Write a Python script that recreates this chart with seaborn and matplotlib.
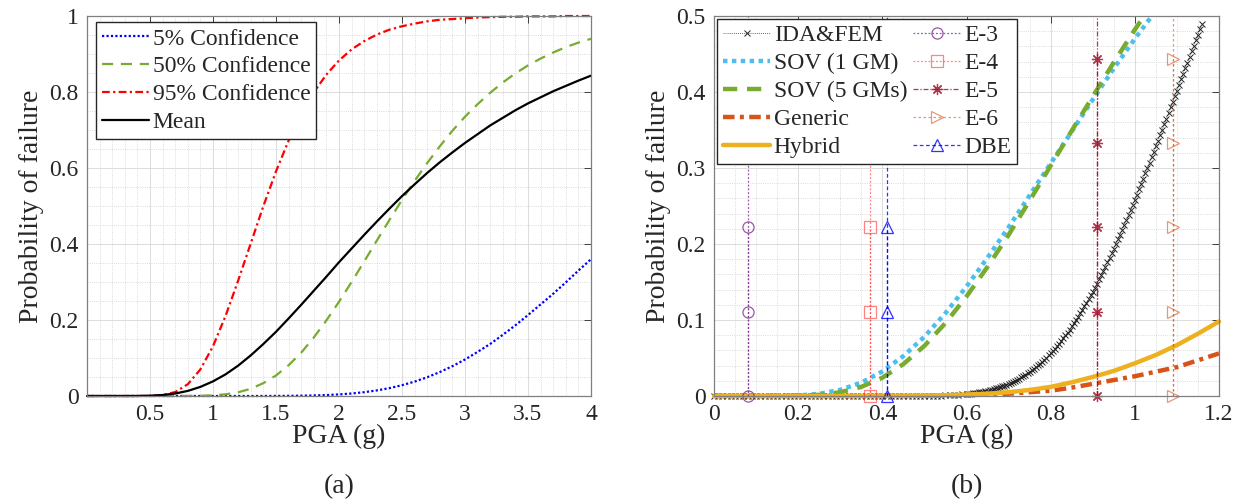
import matplotlib
matplotlib.use('Agg')
import matplotlib.pyplot as plt
from matplotlib.ticker import MultipleLocator, FuncFormatter
import seaborn as sns

# ---- (a) fragility curves with confidence bounds
pga_a = [0.0, 0.1, 0.2, 0.3, 0.4, 0.5, 0.6, 0.7, 0.8, 0.9,
         1.0, 1.1, 1.2, 1.3, 1.4, 1.5, 1.6, 1.7, 1.8, 1.9,
         2.0, 2.1, 2.2, 2.3, 2.4, 2.5, 2.6, 2.7, 2.8, 2.9,
         3.0, 3.1, 3.2, 3.3, 3.4, 3.5, 3.6, 3.7, 3.8, 3.9, 4.0]
pf_5 = [0, 0, 0, 0, 0, 0, 0, 0, 0, 0,
        0, 0, 0, 0, 0, 0.0002, 0.0004, 0.0008, 0.0014, 0.0025,
        0.0042, 0.0066, 0.010, 0.0147, 0.0207, 0.0284, 0.0379, 0.0494, 0.063, 0.0785,
        0.096, 0.116, 0.137, 0.161, 0.186, 0.213, 0.241, 0.269, 0.299, 0.330, 0.360]
pf_50 = [0, 0, 0, 0, 0, 0, 0, 0, 0.0001, 0.0006,
         0.0018, 0.0045, 0.0099, 0.019, 0.034, 0.054, 0.081, 0.114, 0.154, 0.199,
         0.248, 0.300, 0.354, 0.409, 0.463, 0.516, 0.566, 0.613, 0.657, 0.698,
         0.735, 0.768, 0.798, 0.825, 0.849, 0.870, 0.888, 0.904, 0.918, 0.930, 0.940]
pf_95 = [0, 0, 0, 0, 0, 0.0003, 0.0024, 0.0104, 0.031, 0.070,
         0.131, 0.211, 0.304, 0.402, 0.500, 0.591, 0.672, 0.741, 0.799, 0.846,
         0.883, 0.912, 0.934, 0.951, 0.964, 0.973, 0.980, 0.986, 0.990, 0.992,
         0.994, 0.996, 0.997, 0.998, 0.998, 0.999, 0.999, 0.999, 1.0, 1.0, 1.0]
pf_mean = [0, 0, 0, 0, 0.0001, 0.0008, 0.0026, 0.0065, 0.0134, 0.024,
           0.0385, 0.057, 0.080, 0.107, 0.137, 0.169, 0.204, 0.240, 0.277, 0.314,
           0.352, 0.388, 0.424, 0.459, 0.493, 0.526, 0.557, 0.587, 0.615, 0.641,
           0.666, 0.689, 0.712, 0.732, 0.752, 0.770, 0.786, 0.802, 0.816, 0.830, 0.843]

# ---- (b) comparison of methods
ida_pga = [0.00, 0.01, 0.02, 0.03, 0.04, 0.05, 0.06, 0.07, 0.08, 0.09,
           0.10, 0.11, 0.12, 0.13, 0.14, 0.15, 0.16, 0.17, 0.18, 0.19,
           0.20, 0.21, 0.22, 0.23, 0.24, 0.25, 0.26, 0.27, 0.28, 0.29,
           0.30, 0.31, 0.32, 0.33, 0.34, 0.35, 0.36, 0.37, 0.38, 0.39,
           0.40, 0.41, 0.42, 0.43, 0.44, 0.45, 0.46, 0.47, 0.48, 0.49,
           0.50, 0.51, 0.52, 0.53, 0.54, 0.55, 0.56, 0.57, 0.58, 0.59, 0.60,
           0.605, 0.61, 0.615, 0.62, 0.625, 0.63, 0.635, 0.64, 0.645, 0.65,
           0.655, 0.66, 0.665, 0.67, 0.675, 0.68, 0.685, 0.69, 0.695, 0.70,
           0.705, 0.71, 0.715, 0.72, 0.725, 0.73, 0.735, 0.74, 0.745, 0.75,
           0.755, 0.76, 0.765, 0.77, 0.775, 0.78, 0.785, 0.79, 0.795, 0.80,
           0.805, 0.81, 0.815, 0.82, 0.825, 0.83, 0.835, 0.84, 0.845, 0.85,
           0.855, 0.86, 0.865, 0.87, 0.875, 0.88, 0.885, 0.89, 0.895, 0.90,
           0.905, 0.91, 0.915, 0.92, 0.925, 0.93, 0.935, 0.94, 0.945, 0.95,
           0.955, 0.96, 0.965, 0.97, 0.975, 0.98, 0.985, 0.99, 0.995, 1.00,
           1.005, 1.01, 1.015, 1.02, 1.025, 1.03, 1.035, 1.04, 1.045, 1.05,
           1.055, 1.06, 1.065, 1.07, 1.075, 1.08, 1.085, 1.09, 1.095, 1.10,
           1.105, 1.11, 1.115, 1.12, 1.125, 1.13, 1.135, 1.14, 1.145, 1.15,
           1.155, 1.16]
ida_pf = [0, 0, 0, 0, 0, 0, 0, 0, 0, 0,
          0, 0, 0, 0, 0, 0, 0, 0, 0, 0,
          0, 0, 0, 0, 0, 0, 0, 0, 0, 0,
          0, 0, 0, 0, 0, 0, 0, 0, 0, 0,
          0, 0, 0, 0, 0, 0, 0, 0, 0, 0,
          0, 0, 0, 0, 0.0006, 0.0008, 0.0010, 0.0013, 0.0017, 0.0021, 0.0026,
          0.0029, 0.0032, 0.0036, 0.0039, 0.0043, 0.0048, 0.0053, 0.0058, 0.0064, 0.0070,
          0.0076, 0.0083, 0.0091, 0.0099, 0.0107, 0.0116, 0.0126, 0.0136, 0.0147, 0.0159,
          0.0171, 0.0184, 0.0198, 0.0212, 0.0228, 0.0244, 0.0260, 0.0278, 0.0297, 0.0316,
          0.0336, 0.0358, 0.0380, 0.0403, 0.0427, 0.0452, 0.0479, 0.0506, 0.0534, 0.0564,
          0.0594, 0.0625, 0.0657, 0.0690, 0.0726, 0.0761, 0.0797, 0.0835, 0.0874, 0.0915,
          0.0956, 0.0998, 0.1042, 0.1086, 0.1131, 0.1178, 0.1226, 0.1274, 0.1324, 0.1374,
          0.1427, 0.1480, 0.1534, 0.1589, 0.1643, 0.1701, 0.1759, 0.1817, 0.1876, 0.1936,
          0.1999, 0.2061, 0.2122, 0.2186, 0.2251, 0.2315, 0.2382, 0.2448, 0.2515, 0.2582,
          0.2651, 0.2720, 0.2790, 0.2858, 0.2929, 0.2998, 0.3071, 0.3142, 0.3213, 0.3285,
          0.3358, 0.3431, 0.3505, 0.3576, 0.3650, 0.3722, 0.3798, 0.3871, 0.3944, 0.4017,
          0.4090, 0.4168, 0.4243, 0.4313, 0.4388, 0.4459, 0.4534, 0.4606, 0.4681, 0.4753,
          0.4825, 0.4900]

pga_b = [0.0, 0.05, 0.1, 0.15, 0.2, 0.25, 0.3, 0.35, 0.4, 0.45, 0.5, 0.55, 0.6,
         0.65, 0.7, 0.75, 0.8, 0.85, 0.9, 0.95, 1.0, 1.05, 1.1, 1.15, 1.2]
sov_1gm = [0, 0, 0, 0.0001, 0.0007, 0.0029, 0.0081, 0.0176, 0.0323, 0.0525, 0.078, 0.109, 0.144,
           0.182, 0.222, 0.264, 0.306, 0.348, 0.390, 0.431, 0.470, 0.507, 0.543, 0.577, 0.609]
sov_5gm = [0, 0, 0, 0, 0.0003, 0.0015, 0.0049, 0.012, 0.024, 0.042, 0.066, 0.096, 0.131,
           0.170, 0.212, 0.257, 0.303, 0.349, 0.394, 0.439, 0.482, 0.523, 0.561, 0.597, 0.630]
generic = [0, 0, 0, 0, 0, 0, 0, 0, 0, 0, 0.0002, 0.0005, 0.001,
           0.002, 0.003, 0.005, 0.007, 0.011, 0.016, 0.021, 0.026, 0.032, 0.038, 0.047, 0.056]
hybrid = [0, 0, 0, 0, 0, 0, 0, 0, 0.0001, 0.0003, 0.0005, 0.001, 0.002,
          0.003, 0.005, 0.008, 0.012, 0.018, 0.025, 0.033, 0.043, 0.054, 0.067, 0.082, 0.098]

event_names = ['E-3', 'E-4', 'E-5', 'E-6', 'DBE']
event_pga = [0.08, 0.37, 0.91, 1.09, 0.41]
event_pf = [[0, 0.111, 0.222],
            [0, 0.111, 0.222],
            [0, 0.111, 0.222, 0.333, 0.444],
            [0, 0.111, 0.222, 0.333, 0.444],
            [0, 0.111, 0.222]]

sns.set_theme(style='white')
plt.rcParams['font.family'] = ['Liberation Serif', 'DejaVu Serif']
plt.rcParams['mathtext.fontset'] = 'stix'

fig = plt.figure(figsize=(12.42, 5.04), dpi=100)
ax1 = fig.add_axes([87 / 1242, 1 - 396 / 504, 504 / 1242, 380 / 504])
ax2 = fig.add_axes([714 / 1242, 1 - 396 / 504, 505 / 1242, 380 / 504])

fmt = FuncFormatter(lambda v, p: f'{v:g}')


def style_axes(ax):
    ax.set_axisbelow(True)
    ax.grid(which='major', color='#dcdcdc', lw=0.7, ls='-')
    ax.grid(which='minor', color='#cfcfcf', lw=0.6, ls=':')
    ax.tick_params(which='major', direction='in', length=5, width=0.6, top=True, right=True,
                   labelsize=17, pad=6, color='#262626', labelcolor='#262626')
    ax.tick_params(which='minor', length=0)
    for s in ax.spines.values():
        s.set_color('#7f7f7f')
        s.set_linewidth(0.9)
    ax.xaxis.set_major_formatter(fmt)
    ax.yaxis.set_major_formatter(fmt)
    ax.set_xlabel('PGA (g)', fontsize=20, labelpad=-1, color='#262626')
    ax.set_ylabel('Probability of failure', fontsize=20, labelpad=4, color='#262626')


leg_kw = dict(loc='upper left', borderaxespad=0, fontsize=17, frameon=True, fancybox=False,
              framealpha=1, edgecolor='#262626', handlelength=2.0, handletextpad=0.15,
              labelspacing=0.27, borderpad=0.25)

# ---- panel (a)
sns.lineplot(x=pga_a, y=pf_5, ax=ax1, color='#0000ff', lw=1.6, linestyle=(0, (1, 1)),
             label='5% Confidence', clip_on=False)
sns.lineplot(x=pga_a, y=pf_50, ax=ax1, color='#77ac30', lw=1.6, linestyle=(0, (5, 3.5)),
             label='50% Confidence', clip_on=False)
sns.lineplot(x=pga_a, y=pf_95, ax=ax1, color='#ff0000', lw=1.6, linestyle=(0, (3.5, 1.5, 1, 1.5)),
             label='95% Confidence', clip_on=False)
sns.lineplot(x=pga_a, y=pf_mean, ax=ax1, color='#000000', lw=1.6, linestyle='-',
             label='Mean', clip_on=False)
ax1.set_xlim(0, 4)
ax1.set_ylim(0, 1)
ax1.set_xticks([0.5, 1, 1.5, 2, 2.5, 3, 3.5, 4])
ax1.set_yticks([0, 0.2, 0.4, 0.6, 0.8, 1])
ax1.xaxis.set_minor_locator(MultipleLocator(0.1))
ax1.yaxis.set_minor_locator(MultipleLocator(0.05))
style_axes(ax1)
ax1.legend(bbox_to_anchor=(0.018, 0.984), **leg_kw)

# ---- panel (b)
sns.lineplot(x=ida_pga, y=ida_pf, ax=ax2, color='#333333', lw=0.6, linestyle=(0, (1, 1.5)),
             marker='x', markersize=4.5, markeredgewidth=0.7, markeredgecolor='#222222',
             label='IDA&FEM', clip_on=False)
sns.lineplot(x=pga_b, y=sov_1gm, ax=ax2, color='#4dbeee', lw=3.2, linestyle=(0, (1, 1)),
             label='SOV (1 GM)')
sns.lineplot(x=pga_b, y=sov_5gm, ax=ax2, color='#77ac30', lw=3.2, linestyle=(0, (3.2, 2.2)),
             label='SOV (5 GMs)')
sns.lineplot(x=pga_b, y=generic, ax=ax2, color='#d95319', lw=3.2, linestyle=(0, (2.6, 1.2, 0.9, 1.2)),
             label='Generic', clip_on=False)
sns.lineplot(x=pga_b, y=hybrid, ax=ax2, color='#edb120', lw=3.2, linestyle='-',
             label='Hybrid', clip_on=False)

ax2.set_xlim(0, 1.2)
ax2.set_ylim(0, 0.5)

event_styles = [
    dict(color='#7e2f8e', ls=(0, (1.5, 1.5)), marker='o', alpha=0.8),
    dict(color='#ff3030', ls=(0, (1.5, 1.5)), marker='s', alpha=0.6),
    dict(color='#a2142f', ls=(0, (4, 1.5, 1, 1.5)), marker=(8, 2, 0), alpha=0.85),
    dict(color='#d95319', ls=(0, (2, 2)), marker='>', alpha=0.6),
    dict(color='#0000ff', ls=(0, (3, 2)), marker='^', alpha=0.8),
]
for name, xe, ys, st in zip(event_names, event_pga, event_pf, event_styles):
    ax2.plot([xe] * len(ys), ys, color=st['color'], ls=st['ls'], lw=0.9, alpha=st['alpha'],
             marker=st['marker'], markersize=8, markerfacecolor='none',
             markeredgecolor=st['color'], markeredgewidth=0.9, label=name, clip_on=False)
    ax2.axvline(xe, color=st['color'], ls=st['ls'], lw=0.9, alpha=st['alpha'])

ax2.set_xticks([0, 0.2, 0.4, 0.6, 0.8, 1, 1.2])
ax2.set_yticks([0, 0.1, 0.2, 0.3, 0.4, 0.5])
ax2.xaxis.set_minor_locator(MultipleLocator(0.05))
ax2.yaxis.set_minor_locator(MultipleLocator(0.02))
style_axes(ax2)
ax2.legend(bbox_to_anchor=(0.006, 0.992), ncol=2, columnspacing=0.25, **leg_kw)

fig.text((87 + 591) / 2 / 1242, 1 - 487 / 504, '(a)', ha='center', va='center', fontsize=20,
         color='#262626')
fig.text((714 + 1219) / 2 / 1242, 1 - 487 / 504, '(b)', ha='center', va='center', fontsize=20,
         color='#262626')

fig.savefig('out.png', dpi=100)
